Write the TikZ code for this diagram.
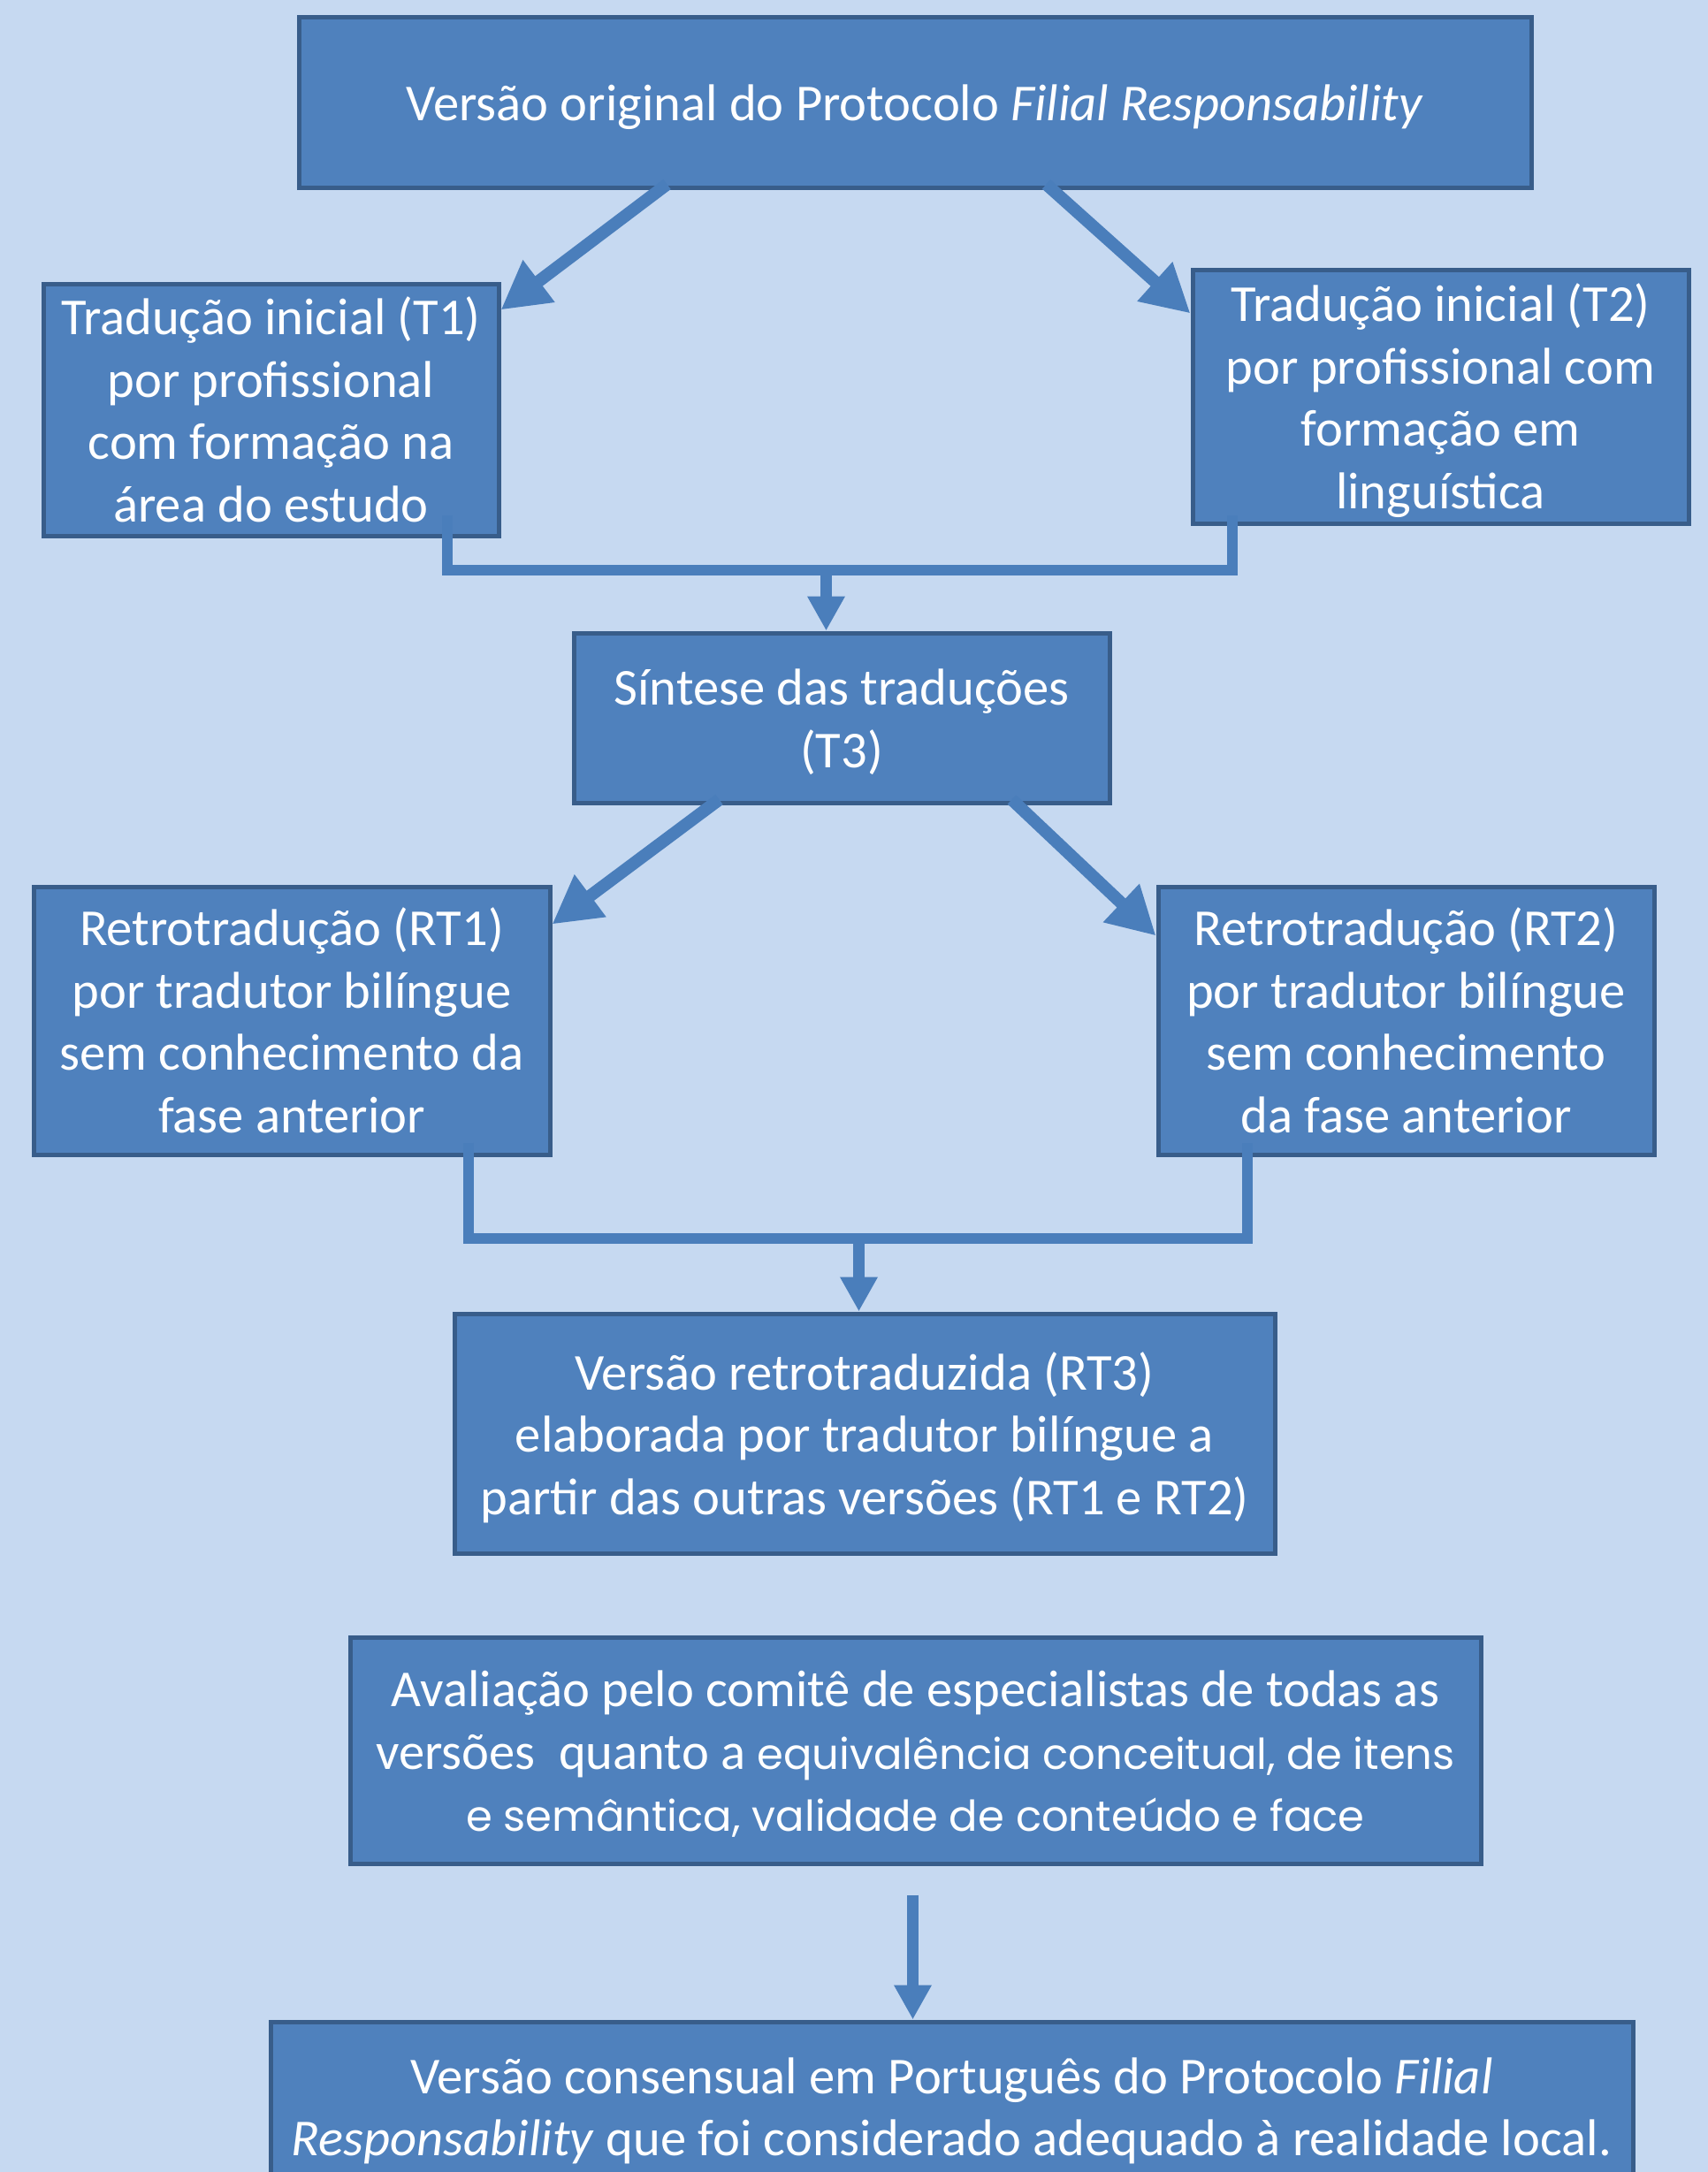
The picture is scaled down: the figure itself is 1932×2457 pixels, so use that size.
\documentclass[tikz,border=0pt]{standalone}
\usepackage{fontspec}
\setmainfont{Carlito}
\newfontfamily\comicfont{Poppins}[Scale=0.82]
\usetikzlibrary{arrows.meta,calc}
\definecolor{bgblue}{RGB}{198,217,241}
\definecolor{boxfill}{RGB}{79,129,189}
\definecolor{boxline}{RGB}{56,93,138}
\definecolor{arrowblue}{RGB}{74,126,187}
\newcommand\tstr{\rule{0pt}{28.4pt}}
\newcommand\bstr{\rule[-7.3pt]{0pt}{0pt}}
\begin{document}
\begin{tikzpicture}[x=0.5pt,y=-0.5pt,
  box/.style={draw=boxline, line width=2.5pt, fill=boxfill, text=white, align=center,
    inner sep=0pt, font=\fontsize{29.3}{35.25}\selectfont},
  bigarrow/.style={draw=arrowblue, line width=7pt, -{Triangle[length=27pt,width=28pt]}},
  merge/.style={draw=arrowblue, line width=6pt, line join=miter},
  smallarrow/.style={draw=arrowblue, line width=6.25pt, -{Triangle[length=19.5pt,width=20pt]}}]
\useasboundingbox (0,0) rectangle (1932,2457);
\clip (0,0) rectangle (1932,2457);
\fill[bgblue] (0,0) rectangle (1932,2457);

\node[box, minimum width=697pt, minimum height=96.5pt] (top) at (1035,115.5)
  {\tstr Versão original do Protocolo \textit{Filial Responsability}\bstr};
\node[box, minimum width=257.5pt, minimum height=142.5pt] (t1) at (306.5,463.5)
  {\tstr Tradução inicial (T1)\\por profissional\\com formação na\\área do estudo\bstr};
\node[box, minimum width=280.5pt, minimum height=143.5pt] (t2) at (1629.5,448.5)
  {\tstr Tradução inicial (T2)\\por profissional com\\formação em\\linguística\bstr};
\node[box, minimum width=303pt, minimum height=96pt] (t3) at (952,812)
  {\tstr Síntese das traduções\\(T3)\bstr};
\node[box, minimum width=292pt, minimum height=151.5pt] (rt1) at (330,1154.5)
  {\tstr Retrotradução (RT1)\\por tradutor bilíngue\\sem conhecimento da\\fase anterior\bstr};
\node[box, minimum width=280.5pt, minimum height=151.5pt] (rt2) at (1590.5,1154.5)
  {\tstr Retrotradução (RT2)\\por tradutor bilíngue\\sem conhecimento\\da fase anterior\bstr};
\node[box, minimum width=464pt, minimum height=135.5pt] (rt3) at (978,1621.5)
  {\tstr Versão retrotraduzida (RT3)\\elaborada por tradutor bilíngue a\\partir das outras versões (RT1 e RT2)\bstr};
\node[box, minimum width=639.5pt, minimum height=128pt] (aval) at (1035.5,1980)
  {\tstr Avaliação pelo comitê de especialistas de todas as\\versões\ \ quanto a {\comicfont equivalência conceitual, de itens}\\{\comicfont e semântica, validade de conteúdo e face}\bstr};
\node[box, minimum width=770.5pt, minimum height=95.5pt] (final) at (1076.5,2382.5)
  {\tstr Versão consensual em Português do Protocolo \textit{Filial}\\\textit{Responsability} que foi considerado adequado à realidade local.\bstr};

% top -> T1, T2
\draw[bigarrow] ($(top.south west)+(419,-6)$) -- ($(t1.north east)+(0,32)$);
\draw[bigarrow] ($(top.south west)+(848,-6)$) -- ($(t2.north west)+(0,52)$);
% T1, T2 -> T3
\draw[merge] ($(t1.south)+(199.5,-26)$) |- ($(t2.south)+(-235.5,50)$) -- ($(t2.south)+(-235.5,-12)$);
\draw[smallarrow] ($(t3.north)+(-17.5,-74)$) -- ($(t3.north)+(-17.5,0)$);
% T3 -> RT1, RT2
\draw[bigarrow] ($(t3.south west)+(167,-6)$) -- ($(rt1.north east)+(0,45)$);
\draw[bigarrow] ($(t3.south west)+(498,-6)$) -- ($(rt2.north west)+(0,58)$);
% RT1, RT2 -> RT3
\draw[merge] ($(rt1.south)+(200,-16)$) |- ($(rt2.south)+(-179.5,92)$) -- ($(rt2.south)+(-179.5,-16)$);
\draw[smallarrow] ($(rt3.north)+(-6.5,-88)$) -- ($(rt3.north)+(-6.5,0)$);
% aval -> final
\draw[smallarrow] ($(aval.south)+(-3,33)$) -- ($(final.north)+(-44,0)$);
\end{tikzpicture}
\end{document}
